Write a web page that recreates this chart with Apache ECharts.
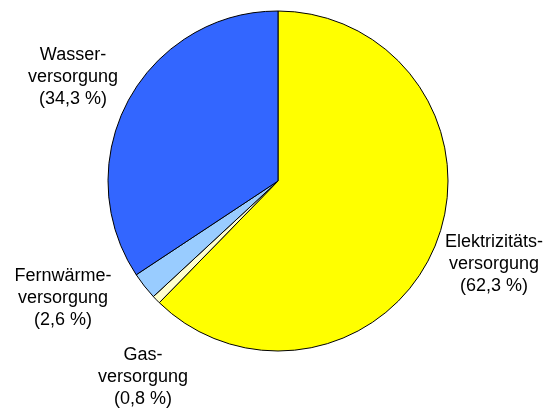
<!DOCTYPE html>
<html>
<head>
<meta charset="utf-8">
<script src="https://cdn.jsdelivr.net/npm/echarts@6/dist/echarts.min.js"></script>
<style>
  html, body { margin: 0; padding: 0; background: #fff; }
  #chart { width: 550px; height: 409px; }
</style>
</head>
<body>
<div id="chart"></div>
<script>
// Anteile der Sparten (%)
const sectors = ['Elektrizitäts-\nversorgung', 'Gas-\nversorgung', 'Fernwärme-\nversorgung', 'Wasser-\nversorgung'];
const shares = [62.3, 0.8, 2.6, 34.3];
const colors = ['#ffff00', '#ffffcc', '#99ccff', '#3366ff'];

// Label-Mittelpunkte (Pixel)
const labelPos = [[494, 264], [143, 377], [63, 298], [73, 77]];

const chart = echarts.init(document.getElementById('chart'));
chart.setOption({
  animation: false,
  series: [{
    type: 'pie',
    center: [278, 181],
    radius: 170,
    startAngle: 90,
    clockwise: true,
    data: sectors.map((name, i) => ({
      name: name,
      value: shares[i],
      itemStyle: { color: colors[i] }
    })),
    itemStyle: { borderColor: '#000', borderWidth: 1 },
    label: {
      show: true,
      position: 'outside',
      fontFamily: 'Liberation Sans, Arial, sans-serif',
      fontSize: 18,
      lineHeight: 22,
      color: '#000',
      align: 'center',
      overflow: 'none',
      width: 200,
      formatter: p => p.name + '\n(' + p.value.toFixed(1).replace('.', ',') + ' %)'
    },
    labelLine: { show: false },
    labelLayout: p => ({
      x: labelPos[p.dataIndex][0],
      y: labelPos[p.dataIndex][1],
      align: 'center',
      verticalAlign: 'middle'
    }),
    emphasis: { disabled: true }
  }]
});
</script>
</body>
</html>
